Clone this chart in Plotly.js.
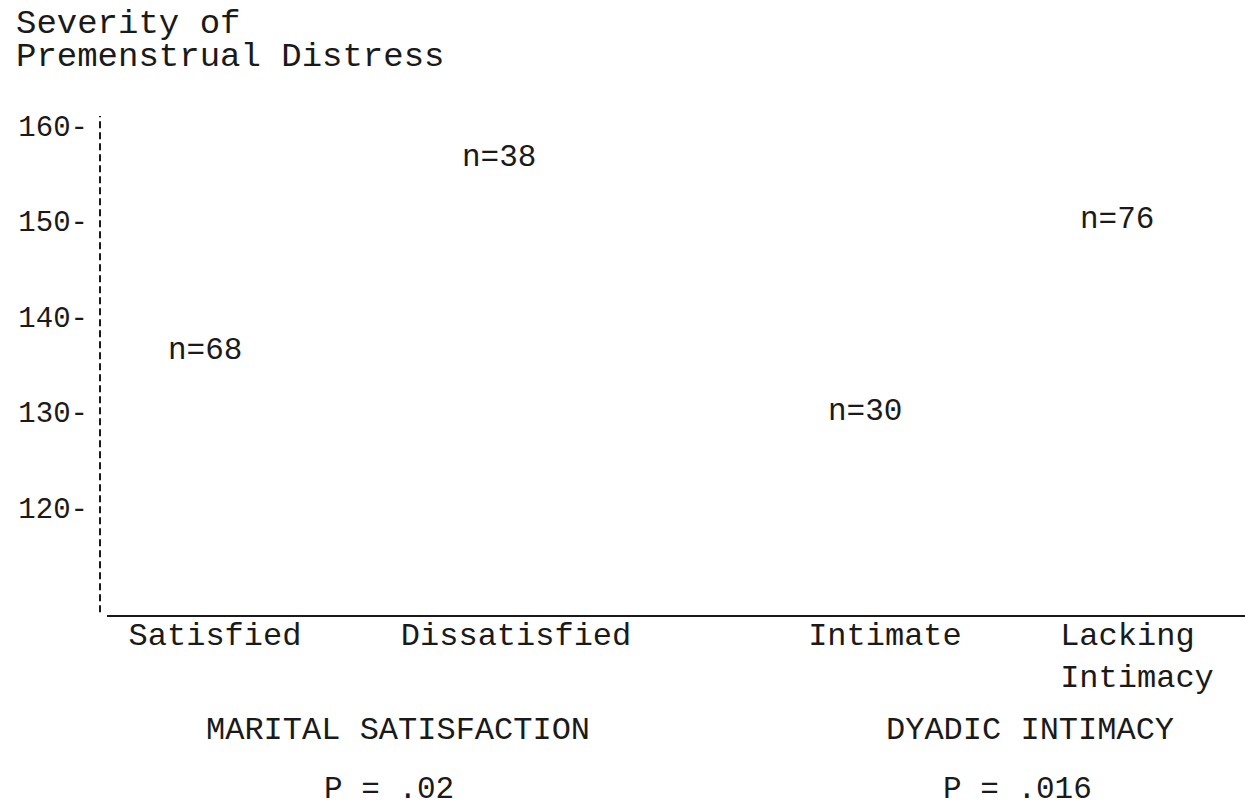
<!DOCTYPE html>
<html>
<head>
<meta charset="utf-8">
<script src="https://cdn.plot.ly/plotly-3.0.1.min.js"></script>
<style>html,body{margin:0;padding:0;background:#fff;}#chart{width:1245px;height:807px;}</style>
</head>
<body>
<div id="chart"></div>
<script>
// ---- data ----
const maritalCategories = ["Satisfied", "Dissatisfied"];
const maritalMeans = [136.5, 156.7];
const maritalN = [68, 38];
const intimacyCategories = ["Intimate", "Lacking\u00A0<br>Intimacy"];
const intimacyMeans = [130.1, 150.2];
const intimacyN = [30, 76];
const yTicks = [120, 130, 140, 150, 160];
const yTickLabels = ["120-", "130-", "140-", "150-", "160-"];
const titleLines = ["Severity of", "Premenstrual Distress"];
const groupTitles = ["MARITAL SATISFACTION", "DYADIC INTIMACY"];
const pValues = ["P = .02", "P = .016"];

const FONT = "Liberation Mono, DejaVu Sans Mono, Courier New, monospace";
const INK = "#1a1a1a";

const traces = [
  {x: maritalCategories, y: maritalMeans, xaxis: "x", yaxis: "y", type: "scatter", mode: "none", hoverinfo: "skip", showlegend: false},
  {x: intimacyCategories, y: intimacyMeans, xaxis: "x2", yaxis: "y", type: "scatter", mode: "none", hoverinfo: "skip", showlegend: false}
];

const annotations = [];
// chart title (two lines, tight line spacing like the typewritten original)
const titleY = [1.1844, 1.1182];
titleLines.forEach((t, i) => annotations.push({
  x: -86 / 1145, y: titleY[i], xref: "paper", yref: "paper", text: t, showarrow: false,
  xanchor: "left", yanchor: "middle", font: {family: FONT, size: 34, color: INK}
}));
const maritalShift = [-10, -17];
const intimacyShift = [-20, -20];
maritalCategories.forEach((c, i) => annotations.push({
  x: c, y: maritalMeans[i], xref: "x", yref: "y", text: "n=" + maritalN[i],
  showarrow: false, xshift: maritalShift[i], font: {family: FONT, size: 31, color: INK}
}));
intimacyCategories.forEach((c, i) => annotations.push({
  x: c, y: intimacyMeans[i], xref: "x2", yref: "y", text: "n=" + intimacyN[i],
  showarrow: false, xshift: intimacyShift[i], font: {family: FONT, size: 31, color: INK}
}));
const groupX = [0.2603, 0.8122];
const pX = [0.2524, 0.8009];
groupTitles.forEach((t, i) => annotations.push({
  x: groupX[i], y: -0.2305, xref: "paper", yref: "paper", text: t, showarrow: false,
  xanchor: "center", yanchor: "middle", font: {family: FONT, size: 32, color: INK}
}));
pValues.forEach((t, i) => annotations.push({
  x: pX[i], y: -0.3487, xref: "paper", yref: "paper", text: t, showarrow: false,
  xanchor: "center", yanchor: "middle", font: {family: FONT, size: 31, color: INK}
}));

const axisCommon = {
  type: "category", showgrid: false, zeroline: false, showline: true,
  linecolor: INK, linewidth: 2, ticks: "", fixedrange: true, ticklabelstandoff: -10,
  tickfont: {family: FONT, size: 32, color: INK}
};

const layout = {
  width: 1245, height: 807,
  paper_bgcolor: "#fff", plot_bgcolor: "#fff",
  margin: {l: 100, r: 0, t: 116, b: 192},
  xaxis: Object.assign({}, axisCommon, {domain: [0.0061, 0.524], range: [-0.3588, 1.611], anchor: "y"}),
  xaxis2: Object.assign({}, axisCommon, {domain: [0.524, 1], range: [-0.734, 1.4286], anchor: "y"}),
  yaxis: {
    range: [108.8, 161], showgrid: false, zeroline: false, showline: false,
    tickvals: yTicks, ticktext: yTickLabels, ticks: "", ticklabelstandoff: 18,
    tickfont: {family: FONT, size: 29, color: INK}, fixedrange: true
  },
  shapes: [{
    type: "line", xref: "paper", yref: "y", x0: 0, x1: 0, y0: 109.1, y1: 161,
    line: {color: INK, width: 2, dash: "7px,4px"}
  }],
  annotations: annotations,
  showlegend: false
};

Plotly.newPlot("chart", traces, layout, {staticPlot: true, displayModeBar: false});
</script>
</body>
</html>
